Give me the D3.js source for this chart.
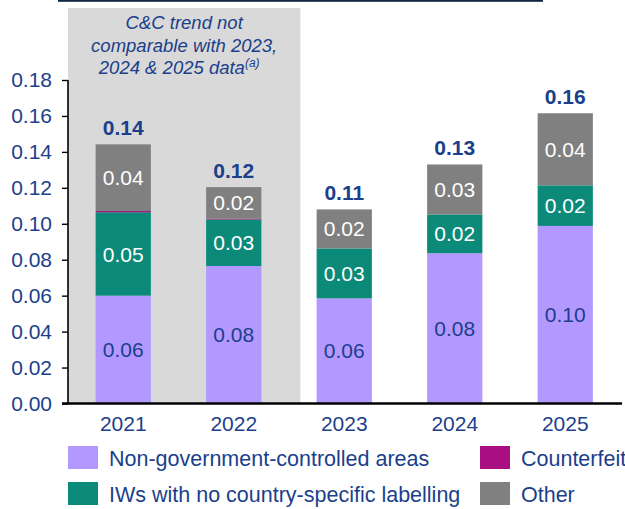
<!DOCTYPE html>
<html>
<head>
<meta charset="utf-8">
<script src="https://cdn.jsdelivr.net/npm/d3@7"></script>
<style>
  html, body { margin: 0; padding: 0; background: #fff; }
  svg { display: block; font-family: "Liberation Sans", Arial, sans-serif; }
</style>
</head>
<body>
<svg id="chart" width="625" height="509"></svg>
<script>
// ---- data ----
const years = ["2021", "2022", "2023", "2024", "2025"];
const ngca = [0.0600, 0.0765, 0.0585, 0.0836, 0.0988];
const iws = [0.0464, 0.0259, 0.0278, 0.0216, 0.0226];
const counterfeit = [0.0007, 0.0005, 0, 0, 0];
const other = [0.0371, 0.0175, 0.0217, 0.0278, 0.0401];
const yTicks = [0, 0.02, 0.04, 0.06, 0.08, 0.10, 0.12, 0.14, 0.16, 0.18];
const seriesNames = ["Non-government-controlled areas", "IWs with no country-specific labelling", "Counterfeit", "Other"];
const noteLines = ["C&C trend not", "comparable with 2023,", "2024 & 2025 data"];

const colors = ["#b399ff", "#0b8a79", "#a90f80", "#808080"];
const labelColors = ["#1b3f8b", "#ffffff", null, "#ffffff"];
const navy = "#1b3f8b";

const rows = years.map((y, i) => ({
  year: y, s0: ngca[i], s1: iws[i], s2: counterfeit[i], s3: other[i]
}));
const keys = ["s0", "s1", "s2", "s3"];
const stacked = d3.stack().keys(keys)(rows);

const svg = d3.select("#chart");

const x = d3.scaleBand().domain(years).range([68, 620.5]).paddingInner(0.5).paddingOuter(0.25);
const y = d3.scaleLinear().domain([0, 0.18]).range([403.5, 80]);

// top rule
svg.append("rect").attr("x", 58).attr("y", 0).attr("width", 485).attr("height", 1.8).attr("fill", "#0e2841");

// shaded region
const shadeRight = x("2022") + x.bandwidth() + 39;
svg.append("rect")
  .attr("x", 68).attr("y", 8)
  .attr("width", shadeRight - 68).attr("height", y(0) - 8)
  .attr("fill", "#d9d9d9");

// note text
const note = svg.append("text")
  .attr("text-anchor", "middle")
  .attr("font-style", "italic")
  .attr("font-size", 18.5)
  .attr("fill", navy);
noteLines.forEach((t, i) => {
  const ts = note.append("tspan").attr("x", (68 + shadeRight) / 2).attr("y", 29 + i * 22.5).text(t);
  if (i === noteLines.length - 1) {
    ts.attr("dx", -5);
    note.append("tspan").attr("font-size", 12).attr("dy", -7).text("(a)");
  }
});

// bars
stacked.forEach((layer, li) => {
  svg.append("g").selectAll("rect").data(layer).join("rect")
    .attr("x", d => x(d.data.year))
    .attr("y", d => y(d[1]))
    .attr("width", x.bandwidth())
    .attr("height", d => Math.max(0, y(d[0]) - y(d[1])))
    .attr("fill", colors[li]);
});

// segment labels
const fmt = d3.format(".2f");
stacked.forEach((layer, li) => {
  if (!labelColors[li]) return;
  svg.append("g").selectAll("text").data(layer.filter(d => d[1] - d[0] > 0.005)).join("text")
    .attr("x", d => x(d.data.year) + x.bandwidth() / 2)
    .attr("y", d => (y(d[0]) + y(d[1])) / 2)
    .attr("dy", "0.36em")
    .attr("text-anchor", "middle")
    .attr("font-size", 21)
    .attr("fill", labelColors[li])
    .text(d => fmt(d[1] - d[0]));
});

// totals
const totals = rows.map(r => ({ year: r.year, total: r.s0 + r.s1 + r.s2 + r.s3 }));
svg.append("g").selectAll("text").data(totals).join("text")
  .attr("x", d => x(d.year) + x.bandwidth() / 2)
  .attr("y", d => y(d.total) - 9)
  .attr("text-anchor", "middle")
  .attr("font-size", 21)
  .attr("font-weight", "bold")
  .attr("fill", navy)
  .text(d => fmt(d.total));

// y axis
const yAxis = svg.append("g").attr("transform", "translate(68,0)")
  .call(d3.axisLeft(y).tickValues(yTicks).tickFormat(d3.format(".2f")).tickSize(6).tickPadding(10));
yAxis.select(".domain").attr("stroke", "#000").attr("stroke-width", 1.6).attr("d", `M0,${y(0.18)}V${y(0)}`);
yAxis.selectAll(".tick line").attr("stroke", "#000").attr("stroke-width", 1.4);
yAxis.selectAll(".tick text").attr("font-size", 21).attr("fill", navy)
  .attr("font-family", "Liberation Sans, Arial, sans-serif");

// x axis
const xAxis = svg.append("g").attr("transform", `translate(0,${y(0)})`)
  .call(d3.axisBottom(x).tickSize(0).tickPadding(13));
xAxis.select(".domain").remove();
svg.append("line").attr("x1", 62).attr("x2", 622).attr("y1", y(0)).attr("y2", y(0))
  .attr("stroke", "#000").attr("stroke-width", 2.4);
xAxis.selectAll(".tick text").attr("font-size", 21).attr("fill", navy)
  .attr("font-family", "Liberation Sans, Arial, sans-serif");

// legend
const legendPos = [
  { sx: 68, sy: 446, name: seriesNames[0], c: colors[0] },
  { sx: 480, sy: 446, name: seriesNames[2], c: colors[2] },
  { sx: 68, sy: 482, name: seriesNames[1], c: colors[1] },
  { sx: 480, sy: 482, name: seriesNames[3], c: colors[3] }
];
const lg = svg.append("g").selectAll("g").data(legendPos).join("g");
lg.append("rect").attr("x", d => d.sx).attr("y", d => d.sy).attr("width", 30).attr("height", 23).attr("fill", d => d.c);
lg.append("text").attr("x", d => d.sx + 41).attr("y", d => d.sy + 12).attr("dy", "0.36em")
  .attr("font-size", 21.5).attr("fill", navy).text(d => d.name);
</script>
</body>
</html>
